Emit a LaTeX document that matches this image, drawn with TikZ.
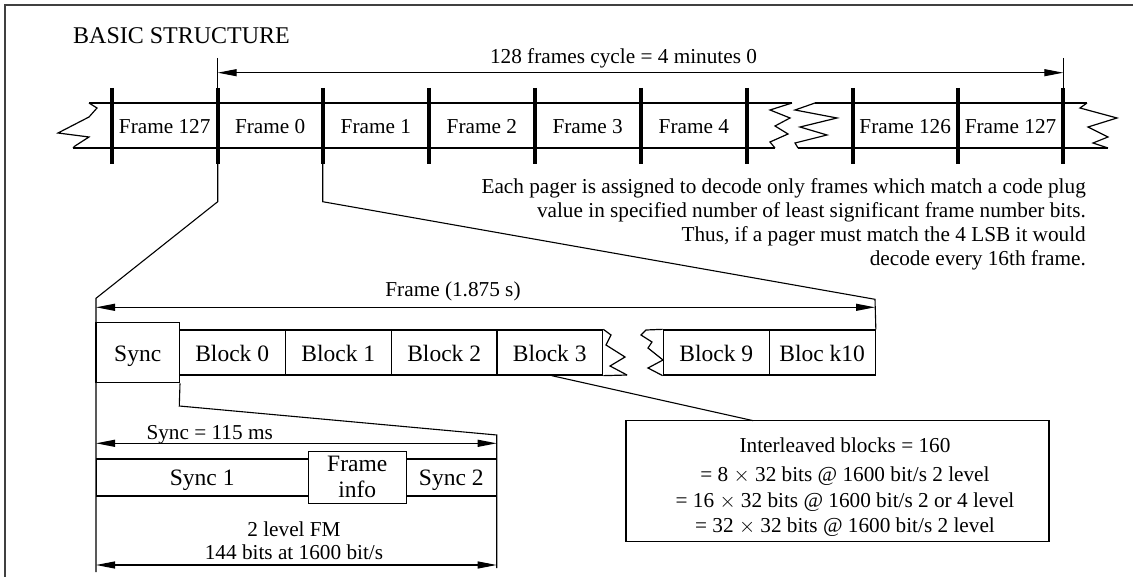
\documentclass[tikz,border=0pt]{standalone}
\usepackage{fontspec}
\setmainfont{Liberation Serif}
\usetikzlibrary{arrows.meta}
\begin{document}
\begin{tikzpicture}[x=1pt,y=-1pt,
  txt/.style={inner sep=0pt,font=\fontsize{21.25}{24.2}\selectfont},
  thinline/.style={line width=1.1pt},
  bandline/.style={line width=2.7pt},
  barline/.style={line width=4pt},
  zigline/.style={line width=1.2pt,line join=miter},
  blk/.style={draw,line width=1.3pt,inner sep=0pt,minimum height=45pt,minimum width=106pt,
              text height=18.4pt,text depth=0pt,font=\fontsize{23.5}{26.4}\selectfont},
  sband/.style={draw,line width=1.1pt,inner sep=0pt,minimum height=37pt,
              text height=16.4pt,text depth=0pt,font=\fontsize{23.5}{26.4}\selectfont},
  dimarrow/.style={line width=1.1pt,{Triangle[length=19pt,width=7pt]}-{Triangle[length=19pt,width=7pt]}},
  frameborder/.style={line width=1.3pt,black!75}
]
\useasboundingbox (0,0) rectangle (1133,577);

% outer border (top and left)
\coordinate (bl) at (5,577);
\coordinate (tl) at (5,5);
\coordinate (tr) at (1133,5);
\draw[frameborder] (bl) -- (tl) -- (tr);

% title
\node[inner sep=0pt,font=\fontsize{24}{28}\selectfont,anchor=base west] (title) at (73,44) {BASIC STRUCTURE};

% ---------- top frame band ----------
\draw[bandline] (89,103) -- (792,103);
\draw[bandline] (815,103) -- (1087,103);
\draw[bandline] (73,148) -- (775,148);
\draw[bandline] (798,148) -- (1108,148);
% break marks
\draw[zigline] (89,103) -- (97,108) -- (89,117) -- (58,133) -- (89,137) -- (75,146) -- (73,148);
\draw[zigline] (792,103) -- (770,110) -- (790,118) -- (775,126) -- (788,134) -- (770,142) -- (775,148);
\draw[zigline] (815,103) -- (795,110) -- (837,118) -- (800,127) -- (827,135) -- (795,143) -- (798,148);
\draw[zigline] (1087,103) -- (1080,108) -- (1117,118) -- (1088,127) -- (1108,137) -- (1093,143) -- (1108,148);
% bars
\foreach \x/\n in {111.7/0,217.7/1,322.7/2,429/3,534.7/4,640.7/5,747/6,852.7/7,957.7/8,1063.3/9}{
  \coordinate (bt\n) at (\x,88);
  \coordinate (bb\n) at (\x,164);
  \draw[barline] (bt\n) -- (bb\n);
}
% frame labels
\node[txt,anchor=base] (f127a) at (164.7,133.3) {Frame 127};
\node[txt,anchor=base] (f0) at (270.2,133.3) {Frame 0};
\node[txt,anchor=base] (f1) at (375.8,133.3) {Frame 1};
\node[txt,anchor=base] (f2) at (481.8,133.3) {Frame 2};
\node[txt,anchor=base] (f3) at (587.7,133.3) {Frame 3};
\node[txt,anchor=base] (f4) at (693.8,133.3) {Frame 4};
\node[txt,anchor=base] (f126) at (905.2,133.3) {Frame 126};
\node[txt,anchor=base] (f127b) at (1010.5,133.3) {Frame 127};

% cycle dimension
\coordinate (cyl) at (217.7,72.7);
\coordinate (cyr) at (1063.3,72.7);
\draw[thinline] (217.7,58) -- (bt1);
\draw[thinline] (1063.3,58) -- (bt9);
\draw[dimarrow] (cyl) -- (cyr);
\node[txt,anchor=base] (cyc) at (623.5,64) {128 frames cycle = 4 minutes 0};

% explanatory paragraph
\node[txt,align=right,anchor=north east] (expl) at (1086,178) {Each pager is assigned to decode only frames which match a code plug\\
value in specified number of least significant frame number bits.\\
Thus, if a pager must match the 4 LSB it would\\
decode every 16th frame.};

% ---------- frame expansion ----------
\node[blk,minimum width=83.3pt,minimum height=60pt] (sync) at (137.7,352.7) {Sync};
\node[blk] (b0) at (232.2,352.5) {Block 0};
\node[blk] (b1) at (338.3,352.5) {Block 1};
\node[blk] (b2) at (444.2,352.5) {Block 2};
\node[blk] (b3) at (549.7,352.5) {Block 3};
\node[blk] (b9) at (716.3,352.5) {Block 9};
\node[blk] (b10) at (822.2,352.5) {Bloc k10};
% break in block row
\draw[zigline] (b3.south east) -- (627,375);
\draw[zigline] (b3.north east) -- (611,335) -- (606,345) -- (625,357) -- (610,366) -- (627,375);
\draw[zigline] (b9.north west) -- (646,330) -- (641,335) -- (652,342) -- (648,348) -- (663,360) -- (648,368) -- (b9.south west);

% zoom lines from Frame 0
\coordinate (z0a) at (217.7,201.7);
\coordinate (z0b) at (96,298.3);
\coordinate (z0c) at (96,572);
\draw[thinline] (bb1) -- (z0a) -- (z0b) -- (z0c);
\coordinate (z1a) at (322.7,201.7);
\coordinate (z1b) at (875,299.3);
\draw[thinline] (bb2) -- (z1a) -- (z1b) -- (b10.north east);

% frame dimension
\coordinate (fdl) at (96,307.3);
\coordinate (fdr) at (875,307.3);
\draw[dimarrow] (fdl) -- (fdr);
\node[txt,anchor=base] (fdim) at (453,297) {Frame (1.875 s)};

% ---------- sync expansion ----------
\coordinate (s1) at (179.3,406);
\coordinate (s2) at (496.7,435);
\coordinate (s3) at (496.7,568);
\draw[thinline] (sync.south east) -- (s1) -- (s2) -- (s3);

\coordinate (sdl) at (96,443.3);
\coordinate (sdr) at (496.7,443.3);
\draw[dimarrow] (sdl) -- (sdr);
\node[txt,anchor=base] (sdim) at (209.7,439) {Sync = 115 ms};

\node[sband,minimum width=212.3pt] (sy1) at (202.2,477.5) {Sync 1};
\node[sband,minimum width=90.7pt] (sy2) at (451.3,477.5) {Sync 2};
\node[draw,fill=white,line width=1.1pt,inner sep=0pt,minimum width=97.7pt,minimum height=52.3pt,
      align=center,font=\fontsize{23.5}{26.4}\selectfont] (finfo) at (357.2,477.2) {Frame\\info};

\node[txt,align=center,anchor=north,font=\fontsize{21.25}{22.7}\selectfont] (fm) at (294,521.5) {2 level FM\\144 bits at 1600 bit/s};
\coordinate (bdl) at (96,565);
\coordinate (bdr) at (496.7,565);
\draw[dimarrow] (bdl) -- (bdr);

% ---------- interleaved blocks ----------
\node[draw,line width=1.3pt,inner sep=0pt,minimum width=423pt,minimum height=121pt] (ilbox) at (837.5,481.2) {};
\node[txt,align=center,anchor=north,font=\fontsize{21.25}{25.3}\selectfont] (iltext) at (845,437.5)
  {Interleaved blocks = 160\\[4pt]
   = 8 $\times$ 32 bits @ 1600 bit/s 2 level\\
   = 16 $\times$ 32 bits @ 1600 bit/s 2 or 4 level\\
   = 32 $\times$ 32 bits @ 1600 bit/s 2 level};
\coordinate (ilin) at (753.3,420.7);
\draw[thinline] ([xshift=2pt]b3.south) -- (ilin);
\end{tikzpicture}
\end{document}
